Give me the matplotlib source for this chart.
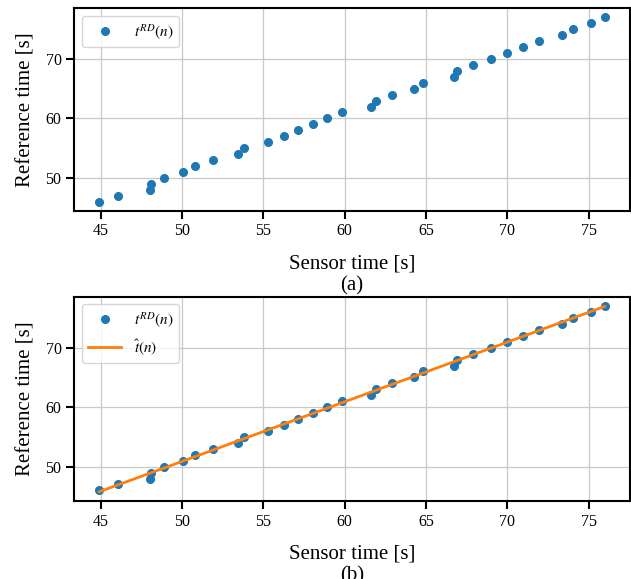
import matplotlib
matplotlib.use("Agg")
from matplotlib import pyplot as plt
import numpy as np

# sensor timestamps and the matching reference-clock times
sensor_time = [44.92, 46.08, 48.02, 48.12, 48.92, 50.08, 50.78, 51.90, 53.43, 53.84,
               55.29, 56.25, 57.15, 58.04, 58.94, 59.84, 61.65, 61.90, 62.90, 64.29,
               64.82, 66.75, 66.92, 67.86, 69.02, 69.96, 70.96, 71.92, 73.33, 74.03,
               75.13, 75.98]
reference_time = [46, 47, 48, 49, 50, 51, 52, 53, 54, 55,
                  56, 57, 58, 59, 60, 61, 62, 63, 64, 65,
                  66, 67, 68, 69, 70, 71, 72, 73, 74, 75,
                  76, 77]
xticks = [45, 50, 55, 60, 65, 70, 75]
yticks = [50, 60, 70]

plt.rcParams['font.family'] = ['Liberation Serif', 'DejaVu Serif']
plt.rcParams['mathtext.fontset'] = 'stix'

x = np.array(sensor_time)
y = np.array(reference_time)
slope, offset = np.polyfit(x, y, 1)
fit = slope * x + offset

fig = plt.figure(figsize=(6.31, 5.79), dpi=100)
ax_a = fig.add_axes([0.1173, 0.6356, 0.8810, 0.3506])
ax_b = fig.add_axes([0.1173, 0.1347, 0.8810, 0.3528])


def style(ax, tag):
    ax.set_xticks(xticks)
    ax.set_yticks(yticks)
    ax.grid(True, color='#c8c8c8', linewidth=0.9)
    ax.set_axisbelow(True)
    for s in ax.spines.values():
        s.set_linewidth(1.5)
        s.set_color('black')
    ax.tick_params(labelsize=11.5, length=5.5, width=1.5)
    ax.set_xlabel('Sensor time [s]\n' + tag, fontsize=15, linespacing=1.25, labelpad=10.5)
    ax.set_ylabel('Reference time [s]', fontsize=15, labelpad=7)
    ax.legend(loc='upper left', fontsize=11, handlelength=2.2, framealpha=0.8,
              edgecolor='#cccccc')


ax_a.plot(x, y, 'o', color='#1f77b4', ms=5.5, label=r'$t^{RD}(n)$')
style(ax_a, '(a)')

ax_b.plot(x, y, 'o', color='#1f77b4', ms=5.5, label=r'$t^{RD}(n)$')
ax_b.plot(x, fit, '-', color='#ff7f0e', lw=2, label=r'$\hat{t}(n)$')
style(ax_b, '(b)')

plt.savefig('out.png', dpi=100)
